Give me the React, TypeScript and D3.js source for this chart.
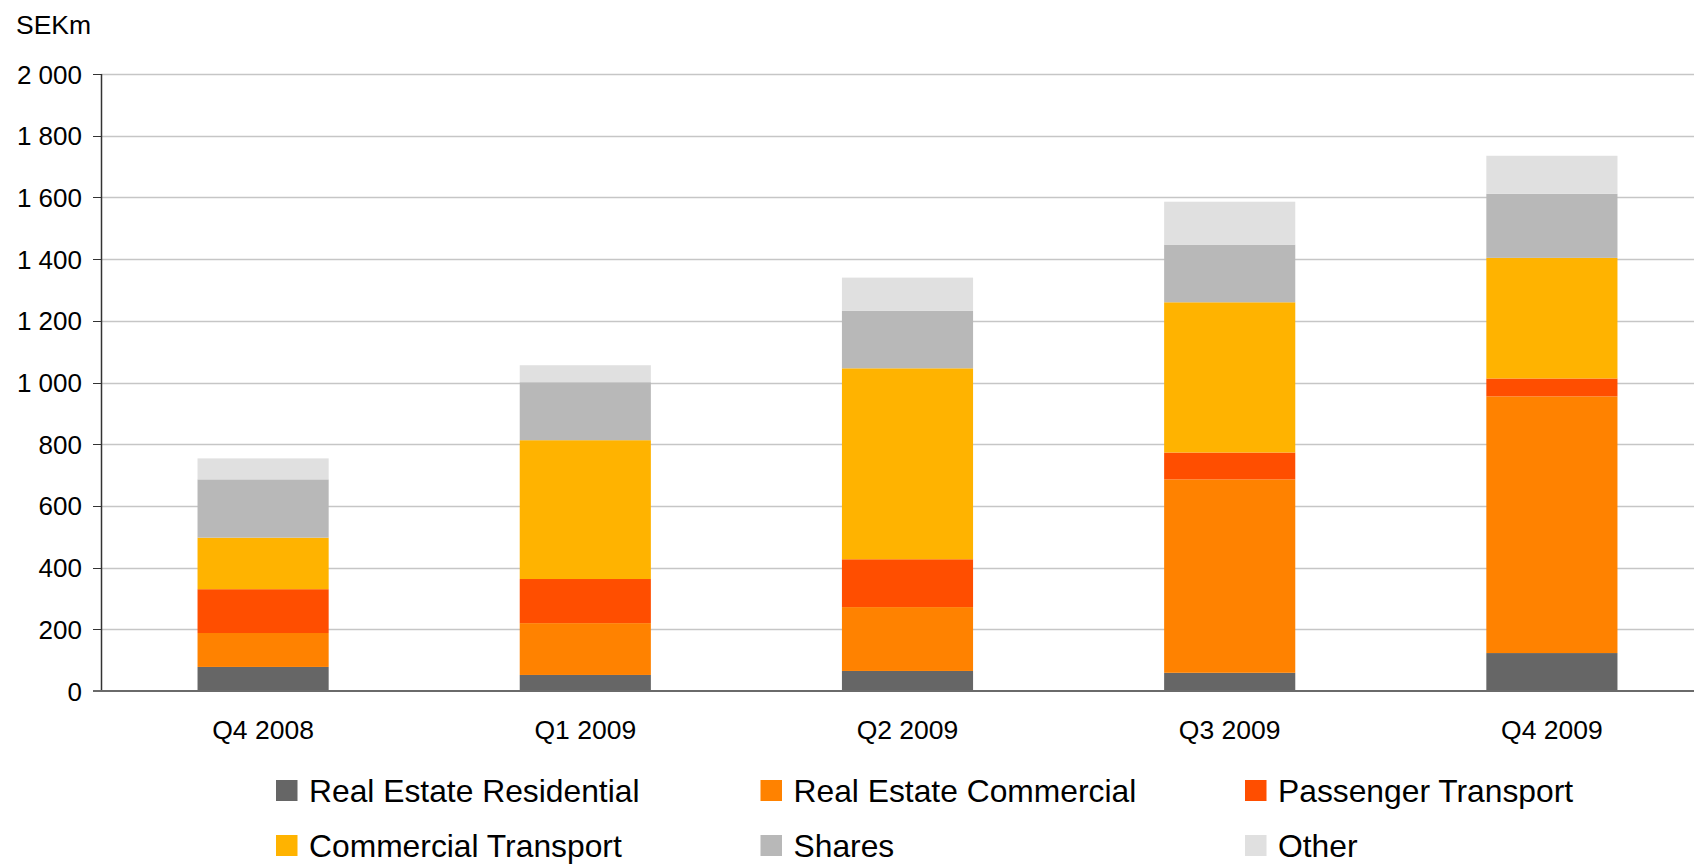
import React from 'react'
import * as d3 from 'd3'

// quarters and stacked values, SEKm
const quarters = ['Q4 2008', 'Q1 2009', 'Q2 2009', 'Q3 2009', 'Q4 2009']
const seriesNames = ['Real Estate Residential', 'Real Estate Commercial', 'Passenger Transport', 'Commercial Transport', 'Shares', 'Other']
const seriesColors = ['#666666', '#ff8200', '#ff4e00', '#ffb300', '#b8b8b8', '#e0e0e0']

const residential = [78, 52, 65, 59, 123]
const commercial = [110, 168, 207, 627, 832]
const passenger = [142, 143, 155, 87, 58]
const commercialTransport = [167, 450, 619, 487, 391]
const shares = [189, 188, 187, 187, 208]
const other = [68, 55, 107, 139, 123]

const yTicks = [0, 200, 400, 600, 800, 1000, 1200, 1400, 1600, 1800, 2000]

const W = 1694
const H = 864
const FONT = 'Liberation Sans, Arial, sans-serif'

const App = () => {
    const table = quarters.map((q, i) => ({
        q,
        s0: residential[i],
        s1: commercial[i],
        s2: passenger[i],
        s3: commercialTransport[i],
        s4: shares[i],
        s5: other[i],
    }))
    const keys = ['s0', 's1', 's2', 's3', 's4', 's5']
    const stacked = d3.stack<any>().keys(keys)(table)

    const x = d3.scaleBand().domain(quarters).range([102, 1713]).paddingInner(0.593).paddingOuter(0.2965)
    const y = d3.scaleLinear().domain([0, 2000]).range([691, 74])
    const fmt = (v: number) => d3.format(',')(v).replace(',', ' ')

    return (
        <svg width={W} height={H} style={{ display: 'block', position: 'absolute', left: 0, top: 0 }} fontFamily={FONT}>
            <rect width={W} height={H} fill="#ffffff" />
            <text x={16} y={34} fontSize={26.5} fill="#000">SEKm</text>

            {/* grid + y ticks */}
            {yTicks.map(t => (
                <g key={t}>
                    {t > 0 && <line x1={101} x2={W} y1={Math.round(y(t)) + 0.5} y2={Math.round(y(t)) + 0.5} stroke="#c6c6c6" strokeWidth={1.5} />}
                    <line x1={93} x2={101} y1={Math.round(y(t)) + 0.5} y2={Math.round(y(t)) + 0.5} stroke="#333" strokeWidth={1} />
                    <text x={82} y={y(t) + 9.5} fontSize={26} textAnchor="end" fill="#000">{fmt(t)}</text>
                </g>
            ))}

            {/* bars */}
            {stacked.map((layer, li) => (
                <g key={li} fill={seriesColors[li]}>
                    {layer.map((d, i) => (
                        <rect key={i} x={x(quarters[i])} width={x.bandwidth()} y={y(d[1])} height={y(d[0]) - y(d[1])} />
                    ))}
                </g>
            ))}

            {/* axes */}
            <line x1={101.5} x2={101.5} y1={y(2000)} y2={692} stroke="#333" strokeWidth={1.5} />
            <line x1={93} x2={W} y1={691} y2={691} stroke="#6a6a6a" strokeWidth={2} />

            {quarters.map(q => (
                <text key={q} x={(x(q) ?? 0) + x.bandwidth() / 2} y={739} fontSize={26.5} textAnchor="middle" fill="#000">{q}</text>
            ))}

            {/* legend */}
            {seriesNames.map((name, i) => {
                const col = i % 3
                const row = Math.floor(i / 3)
                const lx = 276 + col * 484.5
                const ly = 780 + row * 55
                return (
                    <g key={name}>
                        <rect x={lx} y={ly} width={21.5} height={21} fill={seriesColors[i]} />
                        <text x={lx + 33} y={ly + 22} fontSize={31.8} fill="#000">{name}</text>
                    </g>
                )
            })}
        </svg>
    )
}

export default App
